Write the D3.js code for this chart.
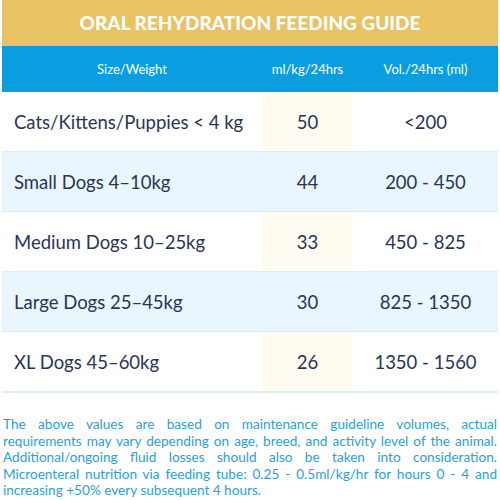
<!DOCTYPE html>
<html><head><meta charset="utf-8">
<script src="https://cdn.jsdelivr.net/npm/d3@7"></script>
<style>
body{margin:0;background:#fff;font-family:Lato,"Noto Sans",sans-serif;}
#note{position:absolute;left:3px;top:416px;width:494px;font-size:13.6px;line-height:16.5px;color:#2c9fd8;text-align:justify;}
</style></head><body>
<svg id="chart" width="500" height="410" style="position:absolute;left:0;top:0"></svg>
<div id="note"></div>
<script>
const title = "ORAL REHYDRATION FEEDING GUIDE";
const headers = ["Size/Weight", "ml/kg/24hrs", "Vol./24hrs (ml)"];
const sizes = ["Cats/Kittens/Puppies < 4 kg", "Small Dogs 4\u201310kg", "Medium Dogs 10\u201325kg", "Large Dogs 25\u201345kg", "XL Dogs 45\u201360kg"];
const rates = ["50", "44", "33", "30", "26"];
const volumes = ["<200", "200 - 450", "450 - 825", "825 - 1350", "1350 - 1560"];
const note = "The above values are based on maintenance guideline volumes, actual requirements may vary depending on age, breed, and activity level of the animal. Additional/ongoing fluid losses should also be taken into consideration. Microenteral nutrition via feeding tube: 0.25 - 0.5ml/kg/hr for hours 0 - 4 and increasing +50% every subsequent 4 hours.";

const svg = d3.select("#chart");
const left = 2, right = 498;
const colEdges = [left, 262, 353, right];

// title band
svg.append("rect").attr("x", left).attr("y", 0).attr("width", right - left).attr("height", 46).attr("fill", "#e8c263");
svg.append("text").attr("x", 250).attr("y", 30).attr("text-anchor", "middle")
  .attr("fill", "#fff").attr("font-size", 19).attr("font-weight", 900).text(title);

// header band
svg.append("rect").attr("x", left).attr("y", 46).attr("width", right - left).attr("height", 46).attr("fill", "#0a9de0");
svg.selectAll(".hd").data(headers).enter().append("text")
  .attr("x", (d, i) => (colEdges[i] + colEdges[i + 1]) / 2).attr("y", 74)
  .attr("text-anchor", "middle").attr("fill", "#fff").attr("font-size", 13).text(d => d);

// rows
const y = d3.scaleBand().domain(d3.range(sizes.length)).range([92, 392]);
const rows = svg.selectAll(".row").data(sizes).enter().append("g")
  .attr("transform", (d, i) => `translate(0,${y(i)})`);
rows.append("rect").attr("x", left).attr("width", right - left).attr("height", y.bandwidth())
  .attr("fill", (d, i) => i % 2 ? "#eaf6fd" : "#fff");
rows.filter((d, i) => i % 2 === 0).append("rect")
  .attr("x", colEdges[1]).attr("width", colEdges[2] - colEdges[1]).attr("height", y.bandwidth()).attr("fill", "#fefcf0");
rows.append("line").attr("x1", left).attr("x2", right).attr("y1", y.bandwidth()).attr("y2", y.bandwidth())
  .attr("stroke", "#bcdff0").attr("stroke-width", 1);
rows.append("text").attr("x", 14).attr("y", y.bandwidth() / 2 + 7)
  .attr("fill", "#2a3457").attr("font-size", 18.5).text(d => d);
rows.append("text").attr("x", (colEdges[1] + colEdges[2]) / 2).attr("y", y.bandwidth() / 2 + 7)
  .attr("text-anchor", "middle").attr("fill", "#2a3457").attr("font-size", 18.5).text((d, i) => rates[i]);
rows.append("text").attr("x", (colEdges[2] + colEdges[3]) / 2).attr("y", y.bandwidth() / 2 + 7)
  .attr("text-anchor", "middle").attr("fill", "#2a3457").attr("font-size", 18.5).text((d, i) => volumes[i]);

d3.select("#note").text(note);
</script></body></html>
